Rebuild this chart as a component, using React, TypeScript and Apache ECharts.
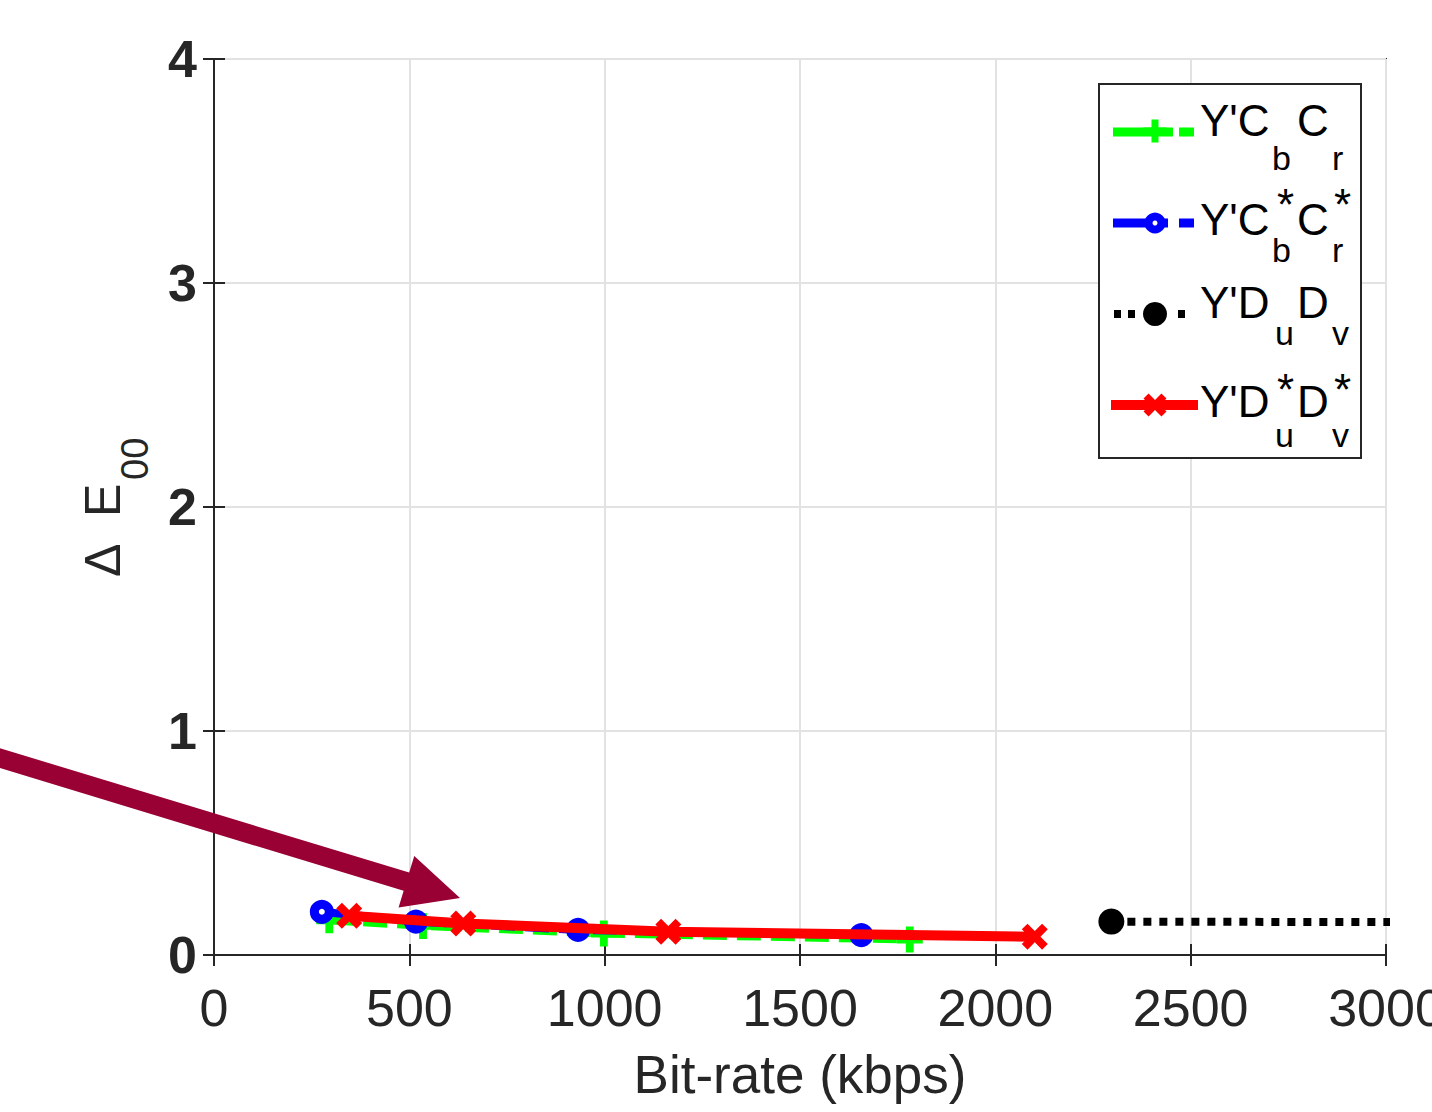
import React, { useEffect, useRef } from "react";
import * as echarts from "echarts";

// ---------- data ----------
const xMin = 0;
const xMax = 3000;
const xStep = 500;
const yMin = 0;
const yMax = 4;
const yStep = 1;

const ycbcrX = [295, 535, 998, 1781];
const ycbcrY = [0.155, 0.13, 0.096, 0.069];

const ycbcrStarX = [276, 517, 932, 1657];
const ycbcrStarY = [0.193, 0.149, 0.112, 0.089];

const ydudvX = [2297, 4300];
const ydudvY = [0.149, 0.143];

const ydudvStarX = [346, 638, 1163, 2101];
const ydudvStarY = [0.175, 0.141, 0.104, 0.082];

const xAxisTitle = "Bit-rate (kbps)";
const yAxisTitleMain = ["Δ", "E"];
const yAxisTitleSub = "00";

const legendEntries = [
  { main1: "Y'C", sub1: "b", main2: "C", sub2: "r", star: false },
  { main1: "Y'C", sub1: "b", main2: "C", sub2: "r", star: true },
  { main1: "Y'D", sub1: "u", main2: "D", sub2: "v", star: false },
  { main1: "Y'D", sub1: "u", main2: "D", sub2: "v", star: true },
];

const GREEN = "#00ff00";
const BLUE = "#0000ff";
const BLACK = "#000000";
const RED = "#ff0000";
const AXIS = "#262626";
const FONT = "'Liberation Sans', Arial, Helvetica, sans-serif";

const zip = (xs: number[], ys: number[]) => xs.map((x, i) => [x, ys[i]]);

const PLUS_PATH =
  "path://M3.5,0H6.5V3.5H10V6.5H6.5V10H3.5V6.5H0V3.5H3.5Z";
const X_PATH =
  "path://M0,2.2L2.2,0L5,2.8L7.8,0L10,2.2L7.2,5L10,7.8L7.8,10L5,7.2L2.2,10L0,7.8L2.8,5Z";

function plusPts(cx: number, cy: number, s: number, t: number) {
  const h = s / 2;
  const w = t / 2;
  return [
    [cx - w, cy - h], [cx + w, cy - h], [cx + w, cy - w], [cx + h, cy - w],
    [cx + h, cy + w], [cx + w, cy + w], [cx + w, cy + h], [cx - w, cy + h],
    [cx - w, cy + w], [cx - h, cy + w], [cx - h, cy - w], [cx - w, cy - w],
  ];
}

function xPts(cx: number, cy: number, s: number) {
  const raw = [
    [0, 2.2], [2.2, 0], [5, 2.8], [7.8, 0], [10, 2.2], [7.2, 5],
    [10, 7.8], [7.8, 10], [5, 7.2], [2.2, 10], [0, 7.8], [2.8, 5],
  ];
  return raw.map(([a, b]) => [cx - s / 2 + (a * s) / 10, cy - s / 2 + (b * s) / 10]);
}

function buildLegend(): any[] {
  const els: any[] = [];
  els.push({
    type: "rect",
    shape: { x: 1099, y: 84, width: 262, height: 374 },
    style: { fill: "#ffffff", stroke: AXIS, lineWidth: 2 },
    z: 100,
  });
  const seg = (x1: number, x2: number, y: number, color: string, w: number) => ({
    type: "line",
    shape: { x1, y1: y, x2, y2: y },
    style: { stroke: color, lineWidth: w, lineCap: "butt" },
    z: 101,
  });
  els.push(seg(1113, 1173, 132, GREEN, 9));
  els.push(seg(1179, 1194, 132, GREEN, 9));
  els.push({ type: "polygon", shape: { points: plusPts(1155, 131, 23, 7) }, style: { fill: GREEN }, z: 102 });
  els.push(seg(1113, 1168, 223, BLUE, 9));
  els.push(seg(1179, 1194, 223, BLUE, 9));
  els.push({ type: "circle", shape: { cx: 1155, cy: 223, r: 6.5 }, style: { fill: "#ffffff", stroke: BLUE, lineWidth: 8 }, z: 102 });
  els.push(seg(1114, 1121, 314, BLACK, 8));
  els.push(seg(1128, 1135, 314, BLACK, 8));
  els.push(seg(1178, 1185, 314, BLACK, 8));
  els.push({ type: "circle", shape: { cx: 1155, cy: 314, r: 12 }, style: { fill: BLACK }, z: 102 });
  els.push(seg(1111, 1198, 405, RED, 10));
  els.push({ type: "polygon", shape: { points: xPts(1155, 405, 23) }, style: { fill: RED }, z: 102 });

  const mainBase = [136, 235, 318, 417];
  const subBase = [170, 262, 345, 447];
  const starBase = [0, 219.5, 0, 404.5];
  const mainFs = 44;
  const subFs = 34;
  const txt = (s: string, x: number, base: number, fs: number) => ({
    type: "text",
    x,
    y: base - 0.35 * fs,
    style: { text: s, fontSize: fs, fontFamily: FONT, fill: "#000000", align: "left", verticalAlign: "middle" },
    z: 103,
  });
  legendEntries.forEach((e, i) => {
    const isD = e.main1 === "Y'D";
    els.push(txt(e.main1, 1200, mainBase[i], mainFs));
    els.push(txt(e.sub1, isD ? 1275 : 1272, subBase[i], subFs));
    els.push(txt(e.main2, 1297, mainBase[i], mainFs));
    els.push(txt(e.sub2, 1332, subBase[i], subFs));
    if (e.star) {
      els.push(txt("*", 1277, starBase[i], mainFs));
      els.push(txt("*", 1334, starBase[i], mainFs));
    }
  });
  return els;
}

function buildArrow(): any {
  const tip = [460, 898];
  const slope = 0.304;
  const len = Math.sqrt(1 + slope * slope);
  const ux = 1 / len;
  const uy = slope / len;
  const nx = -uy;
  const ny = ux;
  const headLen = 56;
  const headHalf = 27;
  const shaftHalf = 9.5;
  const base = [tip[0] - headLen * ux, tip[1] - headLen * uy];
  const start = [tip[0] - 520 * ux, tip[1] - 520 * uy];
  const pts = [
    [start[0] + shaftHalf * nx, start[1] + shaftHalf * ny],
    [base[0] + shaftHalf * nx, base[1] + shaftHalf * ny],
    [base[0] + headHalf * nx, base[1] + headHalf * ny],
    tip,
    [base[0] - headHalf * nx, base[1] - headHalf * ny],
    [base[0] - shaftHalf * nx, base[1] - shaftHalf * ny],
    [start[0] - shaftHalf * nx, start[1] - shaftHalf * ny],
  ];
  return { type: "polygon", shape: { points: pts }, style: { fill: "#990033" }, z: 120 };
}

function buildAxisTitles(): any[] {
  return [
    {
      type: "text",
      x: 800,
      y: 1074,
      style: { text: xAxisTitle, fontSize: 53, fontFamily: FONT, fill: AXIS, align: "center", verticalAlign: "middle" },
      z: 50,
    },
    {
      type: "group",
      x: 102.5,
      y: 577,
      rotation: Math.PI / 2,
      z: 50,
      children: [
        { type: "text", x: 0, y: 0, style: { text: yAxisTitleMain[0], fontSize: 50, fontFamily: FONT, fill: AXIS, align: "left", verticalAlign: "middle" } },
        { type: "text", x: 60, y: 0, style: { text: yAxisTitleMain[1], fontSize: 50, fontFamily: FONT, fill: AXIS, align: "left", verticalAlign: "middle" } },
        { type: "text", x: 97, y: 32.5, style: { text: yAxisTitleSub, fontSize: 38, fontFamily: FONT, fill: AXIS, align: "left", verticalAlign: "middle" } },
      ],
    },
  ];
}

export default function App() {
  const ref = useRef<HTMLDivElement>(null);
  useEffect(() => {
    if (!ref.current) return;
    const chart = echarts.init(ref.current, undefined, { renderer: "svg" });
    const axisLine = { show: true, lineStyle: { color: AXIS, width: 2 } };
    const axisTick = { show: true, inside: true, length: 11, lineStyle: { color: AXIS, width: 2 } };
    const split = { show: true, lineStyle: { color: "#e2e2e2", width: 2 } };
    const option: any = {
      animation: false,
      backgroundColor: "#ffffff",
      grid: {
        left: 214,
        right: 46,
        top: 59,
        bottom: 157,
        show: true,
        borderColor: AXIS,
        borderWidth: 2,
        backgroundColor: "#ffffff",
        containLabel: false,
        outerBoundsMode: "none",
      },
      xAxis: [
        {
          type: "value",
          min: xMin,
          max: xMax,
          interval: xStep,
          position: "bottom",
          axisLine,
          axisTick,
          splitLine: split,
          axisLabel: {
            fontSize: 52,
            fontFamily: FONT,
            color: AXIS,
            margin: 27,
            hideOverlap: false,
            formatter: (v: number) => String(v),
          },
        },
        {
          type: "value",
          min: xMin,
          max: xMax,
          interval: xStep,
          position: "top",
          axisLine,
          axisTick,
          splitLine: { show: false },
          axisLabel: { show: false },
        },
      ],
      yAxis: [
        {
          type: "value",
          min: yMin,
          max: yMax,
          interval: yStep,
          position: "left",
          axisLine,
          axisTick,
          splitLine: split,
          axisLabel: {
            fontSize: 52,
            fontFamily: FONT,
            fontWeight: "bold",
            color: AXIS,
            margin: 17,
            formatter: (v: number) => String(v),
          },
        },
        {
          type: "value",
          min: yMin,
          max: yMax,
          interval: yStep,
          position: "right",
          axisLine,
          axisTick,
          splitLine: { show: false },
          axisLabel: { show: false },
        },
      ],
      series: [
        {
          type: "line",
          name: "Y'CbCr",
          data: zip(ycbcrX, ycbcrY),
          symbol: PLUS_PATH,
          symbolSize: 26,
          symbolKeepAspect: true,
          showAllSymbol: true,
          itemStyle: { color: GREEN },
          lineStyle: { color: GREEN, width: 8, type: [24, 10] },
          z: 2,
        },
        {
          type: "line",
          name: "Y'Cb*Cr*",
          data: zip(ycbcrStarX, ycbcrStarY),
          symbol: "circle",
          symbolSize: 15,
          showAllSymbol: true,
          itemStyle: { color: "#ffffff", borderColor: BLUE, borderWidth: 9 },
          lineStyle: { color: BLUE, width: 8, type: [24, 10] },
          z: 3,
        },
        {
          type: "line",
          name: "Y'DuDv",
          data: zip(ydudvX, ydudvY),
          symbol: "circle",
          symbolSize: 26,
          showAllSymbol: true,
          clip: true,
          itemStyle: { color: BLACK },
          lineStyle: { color: BLACK, width: 8, type: [8, 8], cap: "butt" },
          z: 4,
        },
        {
          type: "line",
          name: "Y'Du*Dv*",
          data: zip(ydudvStarX, ydudvStarY),
          symbol: X_PATH,
          symbolSize: 26,
          symbolKeepAspect: true,
          showAllSymbol: true,
          itemStyle: { color: RED },
          lineStyle: { color: RED, width: 10, type: "solid" },
          z: 5,
        },
      ],
      graphic: [...buildAxisTitles(), ...buildLegend(), buildArrow()],
    };
    chart.setOption(option);
    return () => chart.dispose();
  }, []);
  return (
    <div
      ref={ref}
      style={{ position: "absolute", left: 0, top: 0, width: 1432, height: 1112, background: "#fff" }}
    />
  );
}
